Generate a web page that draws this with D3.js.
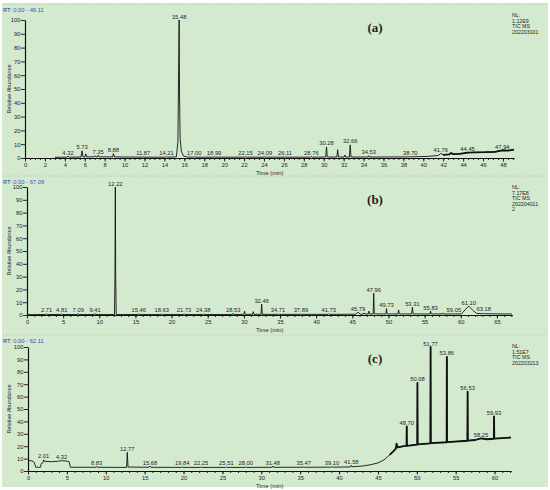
<!DOCTYPE html>
<html>
<head>
<meta charset="utf-8">
<script src="https://cdn.jsdelivr.net/npm/d3@7"></script>
<style>
  body { margin: 0; background: #fff; }
  svg { display: block; }
  text { font-family: "Liberation Sans", Arial, sans-serif; fill: #1e1e1e; }
</style>
</head>
<body>
<div id="chart"></div>
<script>
// chromatogram traces, [time (min), relative abundance]
const traceA = [
  [3.0,0.5],[4.2,0.6],[4.32,1.3],[4.45,0.6],[5.62,0.7],[5.73,5.2],[5.82,0.8],[6.02,0.8],[6.1,3.0],[6.2,0.8],
  [6.92,0.8],[7.0,1.6],[7.1,0.8],[7.28,0.9],[7.35,2.0],[7.45,0.8],[8.8,0.8],[8.88,3.2],[8.98,0.8],
  [11.8,0.6],[11.87,1.0],[11.95,0.6],[14.14,0.6],[14.21,1.0],[14.3,0.6],
  [15.2,0.8],[15.36,12],[15.43,65],[15.48,100],[15.52,45],[15.58,14],[15.7,5],[15.9,1.5],[16.3,0.7],
  [16.93,0.6],[17.0,1.0],[17.08,0.6],[18.92,0.6],[18.99,1.0],[19.07,0.6],[22.08,0.6],[22.15,1.0],[22.23,0.6],
  [24.02,0.6],[24.09,1.0],[24.17,0.6],[26.04,0.6],[26.11,1.0],[26.19,0.6],[28.68,0.6],[28.76,1.2],[28.84,0.6],
  [30.2,0.7],[30.28,8.0],[30.36,0.7],[31.32,0.7],[31.4,6.0],[31.48,0.7],[32.04,0.7],[32.12,2.2],[32.2,0.7],
  [32.58,0.7],[32.66,9.5],[32.74,0.7],[34.45,0.7],[34.53,1.6],[34.61,0.7],[38.62,0.8],[38.7,1.0],[38.78,0.8],
  [40.5,1.2],[41.5,1.8],[41.76,3.3],[42.0,2.3],[42.6,2.6],[42.8,3.6],[43.0,2.8],[43.6,3.0],[44.0,3.4],
  [44.45,3.9],[45.2,4.1],[46.2,4.2],[47.2,4.5],[47.94,5.6],[48.5,5.4],[49.1,6.0]
];
const traceB = [
  [0,0.3],[2.62,0.4],[2.71,1.0],[2.8,0.4],[4.72,0.4],[4.81,1.0],[4.9,0.4],[7.0,0.4],[7.09,1.1],[7.18,0.4],
  [9.32,0.4],[9.41,1.1],[9.5,0.4],[12.1,0.4],[12.17,30],[12.22,100],[12.27,30],[12.34,0.4],
  [15.37,0.4],[15.46,1.0],[15.55,0.4],[18.54,0.4],[18.63,1.0],[18.72,0.4],[21.64,0.4],[21.73,1.0],[21.82,0.4],
  [24.29,0.4],[24.38,1.0],[24.47,0.4],[28.44,0.4],[28.53,1.4],[28.62,0.4],[30.0,0.5],[30.1,3.0],[30.2,0.5],
  [31.2,0.5],[31.3,2.6],[31.4,0.5],[32.37,0.5],[32.46,8.5],[32.55,0.5],[34.62,0.5],[34.71,1.0],[34.8,0.5],
  [37.8,0.5],[37.89,1.0],[37.98,0.5],[41.64,0.5],[41.73,1.0],[41.82,0.5],[45.5,0.6],[45.79,2.2],[46.1,0.6],
  [46.5,0.7],[46.6,1.6],[46.7,0.7],[47.2,0.8],[47.3,3.0],[47.4,0.8],[47.88,0.8],[47.96,17],[48.04,0.9],
  [49.64,0.8],[49.73,5.0],[49.82,0.8],[51.3,0.8],[51.4,4.0],[51.5,0.8],[53.2,0.8],[53.31,6.0],[53.42,0.8],
  [55.74,0.8],[55.83,3.0],[55.92,0.8],[57.4,0.8],[57.5,1.6],[57.6,0.8],[58.96,0.8],[59.05,1.2],[59.14,0.8],
  [60.1,0.9],[60.6,4.0],[61.1,7.0],[61.6,4.0],[62.2,1.2],[63.09,1.0],[63.18,1.6],[63.27,1.0],[64.5,0.9],
  [66.0,0.8],[67.09,0.8]
];
const traceC = [
  [0,8.5],[0.5,8.2],[0.8,7.0],[1.0,3.0],[1.6,3.0],[1.7,6.0],[1.9,6.5],[2.01,9.0],[2.12,7.8],[3.0,7.5],
  [3.8,7.8],[4.32,8.3],[5.0,8.0],[5.3,7.4],[5.45,3.0],[8.74,3.0],[8.83,3.8],[8.92,3.0],[12.68,2.9],
  [12.77,15.0],[12.86,3.2],[15.55,3.0],[15.68,4.0],[15.8,3.0],[19.75,2.9],[19.84,3.4],[19.93,2.9],
  [22.16,2.9],[22.25,3.4],[22.34,2.9],[25.42,2.9],[25.51,3.4],[25.6,2.9],[27.91,2.9],[28.0,3.3],[28.09,2.9],
  [31.39,3.0],[31.48,4.0],[31.57,3.0],[35.38,3.0],[35.47,3.5],[35.56,3.0],[39.01,3.1],[39.1,3.6],[39.19,3.1],
  [41.49,3.3],[41.58,4.5],[41.67,3.4],[43.0,4.0],[44.0,5.0],[45.0,6.5],[45.8,9.0],[46.5,13.0],[47.0,16.0],
  [47.3,18.0],[47.4,22.0],[47.55,19.0],[48.3,20.0],[48.67,20.2],[48.7,36],[48.73,20.3],[50.05,21.3],
  [50.08,71],[50.11,21.4],[51.74,22.3],[51.77,100],[51.8,22.4],[53.83,23.2],[53.86,92],[53.89,23.3],
  [56.5,24.4],[56.53,64],[56.56,24.5],[57.5,25.0],[58.25,26.3],[59.0,25.6],[59.9,26.0],[59.93,44],
  [59.96,26.1],[61.0,26.5],[62.1,27.0]
];

// labelled peaks: retention time and the height the label sits on
const peakRtA = [4.32,5.73,7.35,8.88,11.87,14.21,15.48,17.00,18.99,22.15,24.09,26.11,28.76,30.28,32.66,34.53,38.70,41.76,44.45,47.94];
const peakHA  = [1.3,5.2,2.0,3.2,1.0,1.0,100,1.0,1.0,1.0,1.0,1.0,1.2,8.0,9.5,1.6,1.0,3.3,3.9,5.6];
const peakRtB = [2.71,4.81,7.09,9.41,12.22,15.46,18.63,21.73,24.38,28.53,32.46,34.71,37.89,41.73,45.79,47.96,49.73,53.31,55.83,59.05,61.10,63.18];
const peakHB  = [1.0,1.0,1.1,1.1,100,1.0,1.0,1.0,1.0,1.4,8.5,1.0,1.0,1.0,2.2,17,5.0,6.0,3.0,1.2,7.0,1.6];
const peakRtC = [2.01,4.32,8.83,12.77,15.68,19.84,22.25,25.51,28.00,31.48,35.47,39.10,41.58,48.70,50.08,51.77,53.86,56.53,58.25,59.93];
const peakHC  = [9.0,8.3,3.8,15,4.0,3.4,3.4,3.4,3.3,4.0,3.5,3.6,4.5,36,71,100,92,64,26.3,44];

const rtRanges = [[0, 49.11], [0, 67.09], [0, 62.11]];
const panelTags = ["(a)", "(b)", "(c)"];
const nlInfo = [
  ["NL:", "1.12E9", "TIC  MS", "202203101"],
  ["NL:", "7.17E8", "TIC  MS", "202204011", "2"],
  ["NL:", "1.51E7", "TIC  MS", "202203213"]
];
const yTicks = [0,10,20,30,40,50,60,70,80,90,100];
const xMajorStep = [2, 5, 5];
const xMinorStep = [0.5, 1, 1];
// from this time on the trace is a dense, noisy band (null: none)
const noisyFrom = [42, null, 46.5];

const width = 550, height = 490;

const svg = d3.select("#chart").append("svg")
  .attr("width", width).attr("height", height);

svg.append("rect")
  .attr("x", 2).attr("y", 3).attr("width", 546).attr("height", 484)
  .attr("fill", "#d4eacf");

// layout of each of the three stacked panels
const layout = [
  { left: 25, right: 514, top: 20,  bottom: 158, sep: 4   },
  { left: 27, right: 512, top: 187, bottom: 315, sep: 176 },
  { left: 28, right: 511, top: 347, bottom: 471, sep: 335 }
];

const traces = [traceA, traceB, traceC];
const peakRts = [peakRtA, peakRtB, peakRtC];
const peakHs = [peakHA, peakHB, peakHC];

layout.forEach((L, i) => {
  const g = svg.append("g");
  const [t0, t1] = rtRanges[i];

  const x = d3.scaleLinear().domain([t0, t1]).range([L.left, L.right]);
  const y = d3.scaleLinear().domain([0, 100]).range([L.bottom, L.top]);

  // dotted separator on top of the panel
  g.append("line")
    .attr("x1", 3).attr("x2", 547).attr("y1", L.sep).attr("y2", L.sep)
    .attr("stroke", "#b8c4b6").attr("stroke-width", 0.8).attr("stroke-dasharray", "1.5,1.5");

  // RT range text
  const rt = g.append("text").attr("x", 3).attr("y", L.sep + 8).style("font-size", "5.8px");
  rt.append("tspan").text("RT: ").style("fill", "#2c3a8c");
  rt.append("tspan").text(`${t0.toFixed(2)} - ${t1.toFixed(2)}`).style("fill", "#3a50c0");

  // y axis
  const yAxis = g.append("g")
    .attr("transform", `translate(${L.left},0)`)
    .call(d3.axisLeft(y).tickValues(yTicks).tickSize(4).tickPadding(0.5).tickSizeOuter(0));
  yAxis.selectAll("text").style("font-size", "5.8px");

  // x axis, major and minor ticks
  const major = d3.range(t0, t1 + 1e-6, xMajorStep[i]);
  const minor = d3.range(t0, t1 + 1e-6, xMinorStep[i]);
  g.append("g")
    .attr("transform", `translate(0,${L.bottom})`)
    .call(d3.axisBottom(x).tickValues(minor).tickSize(2).tickFormat("").tickSizeOuter(0));
  const xAxis = g.append("g")
    .attr("transform", `translate(0,${L.bottom})`)
    .call(d3.axisBottom(x).tickValues(major).tickSize(3.5).tickPadding(1.5).tickFormat(d3.format("d")).tickSizeOuter(0));
  xAxis.selectAll("text").style("font-size", "5.8px");

  g.selectAll(".domain").attr("stroke", "#111").attr("stroke-width", 1.2);
  g.selectAll(".tick line").attr("stroke", "#111").attr("stroke-width", 0.9);

  g.append("text")
    .attr("x", 256).attr("y", L.bottom + 17)
    .style("font-size", "5.8px")
    .text("Time (min)");

  g.append("text")
    .attr("transform", `translate(11,${(L.top + L.bottom) / 2}) rotate(-90)`)
    .attr("text-anchor", "middle")
    .style("font-size", "5.5px")
    .text("Relative Abundance");

  // trace
  const line = d3.line().x(d => x(d[0])).y(d => y(d[1]));
  g.append("path")
    .datum(traces[i])
    .attr("d", line)
    .attr("fill", "none")
    .attr("stroke", "#111")
    .attr("stroke-width", 0.9)
    .attr("stroke-linejoin", "round");

  // noisy tail drawn as a heavier band
  if (noisyFrom[i] !== null) {
    g.append("path")
      .datum(traces[i].filter(d => d[0] >= noisyFrom[i]))
      .attr("d", line)
      .attr("fill", "none")
      .attr("stroke", "#111")
      .attr("stroke-width", 1.8)
      .attr("stroke-linejoin", "round");
  }

  // peak labels
  g.selectAll("text.peak")
    .data(peakRts[i])
    .enter()
    .append("text")
    .attr("class", "peak")
    .attr("x", d => x(d))
    .attr("y", (d, k) => y(peakHs[i][k]) - 1.5)
    .attr("text-anchor", "middle")
    .style("font-size", "5.8px")
    .text(d => d.toFixed(2));

  // panel tag
  g.append("text")
    .attr("x", 375).attr("y", L.sep + 28)
    .attr("text-anchor", "middle")
    .style("font-family", "'Liberation Serif', 'DejaVu Serif', serif")
    .style("font-size", "13px")
    .style("font-weight", "bold")
    .text(panelTags[i]);

  // NL block
  g.selectAll("text.nl")
    .data(nlInfo[i])
    .enter()
    .append("text")
    .attr("class", "nl")
    .attr("x", 512)
    .attr("y", (d, k) => L.sep + 13 + k * 5.5)
    .style("font-size", "5.3px")
    .text(d => d);
});
</script>
</body>
</html>
